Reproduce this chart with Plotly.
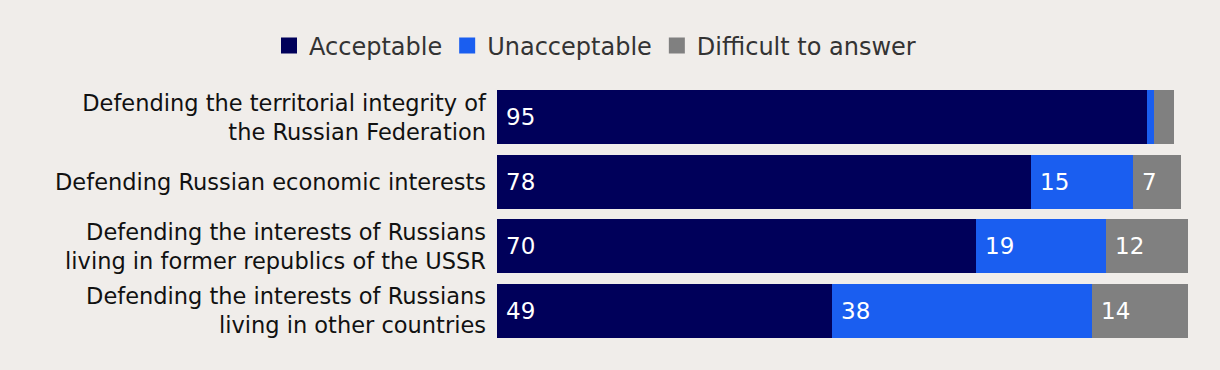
import plotly.graph_objects as go

categories = [
    "Defending the territorial integrity of<br>the Russian Federation",
    "Defending Russian economic interests",
    "Defending the interests of Russians<br>living in former republics of the USSR",
    "Defending the interests of Russians<br>living in other countries",
]
series_names = ["Acceptable", "Unacceptable", "Difficult to answer"]
acceptable = [95, 78, 70, 49]
unacceptable = [1, 15, 19, 38]
difficult = [3, 7, 12, 14]
colors = ["#00005a", "#1a5ef0", "#808080"]

values = [acceptable, unacceptable, difficult]
FONT = "DejaVu Sans"

fig = go.Figure()
for name, vals, col in zip(series_names, values, colors):
    fig.add_trace(go.Bar(
        y=categories, x=vals, name=name, orientation="h",
        marker=dict(color=col, line=dict(width=0)),
        hoverinfo="x+name", showlegend=False,
    ))
# legend-only entries with larger square swatches
for name, col in zip(series_names, colors):
    fig.add_trace(go.Scatter(
        x=[None], y=[None], name=name, mode="markers",
        marker=dict(symbol="square", size=16, color=col),
        showlegend=True, hoverinfo="skip",
    ))

annotations = []
for i, cat in enumerate(categories):
    base = 0
    for vals in values:
        v = vals[i]
        if v >= 5:
            annotations.append(dict(
                x=base, y=cat, xref="x", yref="y", text=str(v),
                showarrow=False, xanchor="left", xshift=7,
                font=dict(family=FONT, size=23, color="white"),
            ))
        base += v

fig.update_layout(
    barmode="stack",
    bargap=0.165,
    width=1220, height=370,
    margin=dict(l=497, r=32, t=85, b=27),
    paper_bgcolor="#f0edea",
    plot_bgcolor="#f0edea",
    font=dict(family=FONT, size=20, color="#111111"),
    legend=dict(orientation="h", x=595 / 1220, xref="container", xanchor="center",
                y=1 - 46 / 370, yref="container", yanchor="middle",
                font=dict(family=FONT, size=24, color="#333333"),
                traceorder="normal", itemwidth=30, bgcolor="rgba(0,0,0,0)"),
    xaxis=dict(range=[0, 101], visible=False, fixedrange=True),
    yaxis=dict(autorange="reversed", showgrid=False, zeroline=False, showline=False,
               ticks="", ticklabelstandoff=10, fixedrange=True,
               tickfont=dict(family=FONT, size=22.5, color="#111111")),
    annotations=annotations,
    showlegend=True,
)

fig.write_html("out.html", config={"displayModeBar": False},
               post_script="document.body.style.margin='0';document.body.style.padding='0';")
